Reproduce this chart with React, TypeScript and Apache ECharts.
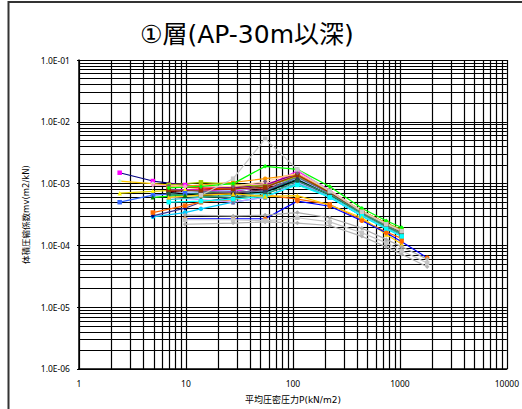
import React, { useEffect, useRef } from "react";
import * as echarts from "echarts";

const titleText = "①層(AP-30m以深)";
const xAxisName = "平均圧密圧力P(kN/m2)";
const yAxisName = "体積圧縮係数mv(m2/kN)";

// average consolidation pressure P (kN/m2) of each test type
const pLow = [2.4, 4.9, 9.8, 27.6, 55, 110, 221, 441, 745, 1040];
const pMid = [4.9, 9.8, 13.8, 27.6, 55, 110, 221, 441, 745, 1040];
const pStd = [6.9, 13.8, 27.6, 55, 110, 221, 441, 745, 1040];
const pPeak = [13.8, 27.6, 55, 110, 221, 441, 745, 1040];
const pLong = [9.8, 27.6, 55, 110, 221, 441, 745, 1040, 1800];

// coefficient of volume compressibility mv (m2/kN)
const mvA1 = [15e-4, 11e-4, 9.5e-4, 8e-4, 9e-4, 14e-4, 7.5e-4, 3.5e-4, 2.2e-4, 1.7e-4];
const mvA2 = [11e-4, 10e-4, 9e-4, 8.5e-4, 9.5e-4, 13e-4, 7e-4, 3.4e-4, 2.1e-4, 1.6e-4];
const mvA3 = [7e-4, 7.5e-4, 8e-4, 8.5e-4, 10e-4, 12e-4, 6.5e-4, 3.2e-4, 2e-4, 1.5e-4];
const mvA4 = [5e-4, 6.5e-4, 7e-4, 7e-4, 8e-4, 11e-4, 6e-4, 3e-4, 1.9e-4, 1.45e-4];

const mvB1 = [2.9e-4, 3.4e-4, 3.9e-4, 5e-4, 6e-4, 10e-4, 6e-4, 3e-4, 1.9e-4, 1.5e-4];
const mvB2 = [3e-4, 4e-4, 5e-4, 6e-4, 7.5e-4, 11e-4, 6.5e-4, 3.2e-4, 2e-4, 1.55e-4];
const mvB3 = [3.4e-4, 4.4e-4, 5e-4, 5.5e-4, 6.5e-4, 5.6e-4, 4.6e-4, 2.6e-4, 1.65e-4, 1.3e-4];
const mvB4 = [9.5e-4, 9e-4, 8.5e-4, 9e-4, 10e-4, 13.5e-4, 7.3e-4, 3.5e-4, 2.2e-4, 1.7e-4];
const mvB5 = [6e-4, 6.5e-4, 7e-4, 7.5e-4, 9e-4, 12.5e-4, 7e-4, 3.4e-4, 2.15e-4, 1.65e-4];

const mvS01 = [9e-4, 8.5e-4, 8e-4, 8.5e-4, 13.5e-4, 7.5e-4, 3.6e-4, 2.3e-4, 1.75e-4];
const mvS02 = [8e-4, 8e-4, 7.5e-4, 9e-4, 16e-4, 7.8e-4, 3.5e-4, 2.2e-4, 1.7e-4];
const mvS03 = [10e-4, 9e-4, 8.5e-4, 9.5e-4, 14.5e-4, 7.2e-4, 3.4e-4, 2.1e-4, 1.6e-4];
const mvS04 = [7.5e-4, 7e-4, 7e-4, 8e-4, 12.5e-4, 7e-4, 3.3e-4, 2e-4, 1.5e-4];
const mvS05 = [6.5e-4, 6.8e-4, 6.5e-4, 7.5e-4, 12e-4, 6.5e-4, 3.2e-4, 2e-4, 1.5e-4];
const mvS06 = [6e-4, 5.5e-4, 5e-4, 6e-4, 10.5e-4, 6.2e-4, 3.1e-4, 1.9e-4, 1.45e-4];
const mvS07 = [7e-4, 7.3e-4, 7.8e-4, 8.8e-4, 12.2e-4, 6.8e-4, 3.3e-4, 2.05e-4, 1.55e-4];
const mvS08 = [8.8e-4, 9.5e-4, 10.5e-4, 12e-4, 14e-4, 7.4e-4, 3.5e-4, 2.15e-4, 1.65e-4];
const mvS09 = [7.2e-4, 6.4e-4, 6.8e-4, 7.2e-4, 11.5e-4, 6.6e-4, 3.25e-4, 2e-4, 1.5e-4];
const mvS10 = [9.5e-4, 10.5e-4, 9.8e-4, 9e-4, 13e-4, 7.6e-4, 3.6e-4, 2.3e-4, 1.8e-4];
const mvS11 = [5.5e-4, 6e-4, 6.5e-4, 7e-4, 10e-4, 6.3e-4, 3.2e-4, 1.95e-4, 1.5e-4];
const mvS12 = [8e-4, 7.5e-4, 7.2e-4, 7.7e-4, 12.8e-4, 7e-4, 3.4e-4, 2.15e-4, 1.6e-4];
const mvS13 = [7.8e-4, 7.8e-4, 8.2e-4, 8.7e-4, 13.8e-4, 7.2e-4, 3.45e-4, 2.2e-4, 1.65e-4];
const mvS14 = [6.8e-4, 6.2e-4, 6e-4, 6.6e-4, 11e-4, 6.7e-4, 3.3e-4, 2.05e-4, 1.55e-4];
const mvS15 = [9.2e-4, 8.9e-4, 9e-4, 10.8e-4, 14.8e-4, 7.7e-4, 3.6e-4, 2.25e-4, 1.7e-4];
const mvS16 = [5e-4, 5.2e-4, 5.6e-4, 6.2e-4, 9.5e-4, 6e-4, 3e-4, 1.85e-4, 1.4e-4];
const mvS17 = [8.5e-4, 9e-4, 10e-4, 19e-4, 17e-4, 9e-4, 4e-4, 2.5e-4, 1.95e-4];
const mvS18 = [6e-4, 6.5e-4, 6.8e-4, 6.2e-4, 6.4e-4, 4.5e-4, 2.8e-4, 1.5e-4, 1.05e-4];

const mvP1 = [6.5e-4, 12e-4, 53e-4, 17e-4, 7.5e-4, 3.5e-4, 2.2e-4, 1.7e-4];

const mvL1 = [2.7e-4, 2.7e-4, 2.7e-4, 5.2e-4, 4.3e-4, 2.5e-4, 1.6e-4, 1.15e-4, 0.63e-4];
const mvL2 = [2.2e-4, 2.3e-4, 2.4e-4, 2.3e-4, 2.1e-4, 1.4e-4, 0.95e-4, 0.72e-4, 0.45e-4];
const mvL3 = [2.6e-4, 2.6e-4, 2.5e-4, 2.8e-4, 2.4e-4, 1.6e-4, 1.1e-4, 0.82e-4, 0.52e-4];
const mvL4 = [3.1e-4, 3e-4, 3.1e-4, 3.4e-4, 2.8e-4, 1.9e-4, 1.25e-4, 0.95e-4, 0.6e-4];

type Def = [number[], number[], string, string];
const defs: Def[] = [
  [pLow, mvA1, "#000080", "#FF00FF"],
  [pLow, mvA2, "#FFCC00", "#CCFFCC"],
  [pLow, mvA3, "#E6D800", "#FFFF00"],
  [pLow, mvA4, "#3366FF", "#3366FF"],
  [pMid, mvB1, "#00CCFF", "#00CCFF"],
  [pMid, mvB2, "#333399", "#000080"],
  [pMid, mvB3, "#FF6600", "#FF6600"],
  [pMid, mvB4, "#FF99CC", "#FF99CC"],
  [pMid, mvB5, "#00FF00", "#008000"],
  [pStd, mvS01, "#FF0000", "#FF0000"],
  [pStd, mvS02, "#FF00FF", "#FF00FF"],
  [pStd, mvS03, "#800080", "#800080"],
  [pStd, mvS04, "#800000", "#800000"],
  [pStd, mvS05, "#008080", "#008080"],
  [pStd, mvS06, "#CC99FF", "#8064A2"],
  [pStd, mvS07, "#99CCFF", "#4F6D8F"],
  [pStd, mvS08, "#FF9900", "#FF9900"],
  [pStd, mvS09, "#000000", "#000000"],
  [pStd, mvS10, "#99CC00", "#99CC00"],
  [pStd, mvS11, "#33CCCC", "#33CCCC"],
  [pStd, mvS12, "#666699", "#333366"],
  [pStd, mvS13, "#993300", "#993300"],
  [pStd, mvS14, "#339966", "#1F5F3F"],
  [pStd, mvS15, "#FFCC99", "#7F5F7F"],
  [pStd, mvS16, "#00FFFF", "#00FFFF"],
  [pStd, mvS17, "#00FF00", "#00FF00"],
  [pStd, mvS18, "#FFCC00", "#FFCC00"],
  [pPeak, mvP1, "#C8C8C8", "#C8C8C8"],
  [pLong, mvL1, "#0000FF", "#FF6600"],
  [pLong, mvL2, "#B4B4B4", "#B4B4B4"],
  [pLong, mvL3, "#C4C4C4", "#C4C4C4"],
  [pLong, mvL4, "#ACACAC", "#ACACAC"],
];

const symbols = ["rect", "diamond", "triangle", "rect", "circle", "diamond"];

const fmtE = (v: number) => {
  const e = Math.round(Math.log10(v));
  return "1.0E" + (e < 0 ? "-" : "+") + String(Math.abs(e)).padStart(2, "0");
};

export default function App() {
  const ref = useRef<HTMLDivElement>(null);
  useEffect(() => {
    if (!ref.current) return;
    const chart = echarts.init(ref.current, undefined, { renderer: "svg" });
    const series = defs.map(([p, mv, line, mark], i) => ({
      type: "line",
      data: p.map((x, j) => [x, mv[j]]),
      symbol: symbols[i % symbols.length],
      symbolSize: 4.5,
      showSymbol: true,
      lineStyle: { color: line, width: 1.2 },
      itemStyle: { color: mark, borderWidth: 0 },
      z: 3,
    }));
    chart.setOption({
      animation: false,
      backgroundColor: "#fff",
      title: {
        text: titleText,
        left: 135,
        top: 17,
        textStyle: { fontSize: 25, fontWeight: "normal", color: "#000", fontFamily: "DejaVu Sans, Noto Sans CJK JP" },
      },
      graphic: [
        { type: "rect", shape: { x: 8.5, y: 2, width: 600, height: 500 }, style: { fill: "none", stroke: "#333", lineWidth: 2 }, z: 10 },
      ],
      grid: { left: 79, top: 60, right: 12, bottom: 36 },
      xAxis: {
        type: "log",
        logBase: 10,
        min: 1,
        max: 10000,
        name: xAxisName,
        nameLocation: "middle",
        nameGap: 26,
        nameTextStyle: { fontSize: 9, color: "#000", fontFamily: "DejaVu Sans, Noto Sans CJK JP" },
        axisLine: { show: true, lineStyle: { color: "#000", width: 1.5 } },
        axisTick: { show: false },
        axisLabel: { fontSize: 8.5, margin: 10, color: "#000", fontFamily: "Noto Sans", formatter: (v: number) => String(v) },
        splitLine: { show: true, lineStyle: { color: "#000", width: 1.2 } },
        minorTick: { show: false, splitNumber: 9 },
        minorSplitLine: { show: true, lineStyle: { color: "#000", width: 1.2 } },
      },
      yAxis: {
        type: "log",
        logBase: 10,
        min: 1e-6,
        max: 1e-1,
        name: yAxisName,
        nameLocation: "middle",
        nameRotate: 90,
        nameGap: 49,
        nameTextStyle: { fontSize: 8.5, color: "#000", fontFamily: "DejaVu Sans, Noto Sans CJK JP" },
        axisLine: { show: true, lineStyle: { color: "#000", width: 1.5 } },
        axisTick: { show: true, length: 2, lineStyle: { color: "#000" } },
        axisLabel: { fontSize: 8.5, margin: 9, color: "#000", fontFamily: "Noto Sans", formatter: fmtE },
        splitLine: { show: true, lineStyle: { color: "#000", width: 1.2 } },
        minorTick: { show: false, splitNumber: 9 },
        minorSplitLine: { show: true, lineStyle: { color: "#000", width: 1.2 } },
      },
      series,
    });
    return () => chart.dispose();
  }, []);
  return (
    <div
      ref={ref}
      style={{ position: "fixed", left: 0, top: 0, width: 522, height: 409, background: "#fff" }}
    />
  );
}
